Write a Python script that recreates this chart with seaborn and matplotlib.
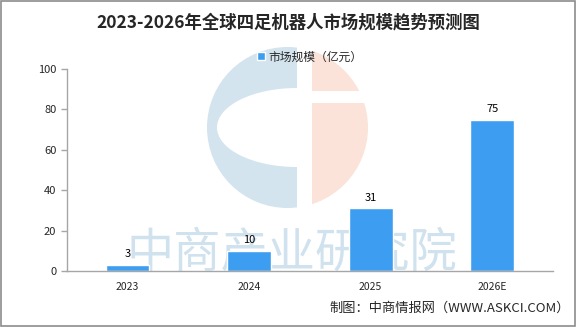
import matplotlib
matplotlib.use("Agg")
import matplotlib.pyplot as plt
import seaborn as sns
import pandas as pd
from matplotlib.patches import Circle, Ellipse, Rectangle

# 数据
years = ["2023", "2024", "2025", "2026E"]
market_size = [3, 10, 31, 75]
series_name = "市场规模（亿元）"
title = "2023-2026年全球四足机器人市场规模趋势预测图"
source = "制图：中商情报网（WWW.ASKCI.COM）"

df = pd.DataFrame({"年份": years, series_name: market_size})

sns.set_style("white")
plt.rcParams["font.family"] = ["Noto Sans CJK SC", "DejaVu Sans"]

bar_color = "#3d9df0"
axis_gray = "#a6a6a6"

fig = plt.figure(figsize=(5.76, 3.27), dpi=100)
ax = fig.add_axes([0.116, 0.171, 0.844, 0.618])

# 背景水印（logo + 文字），像素坐标
wm = fig.add_axes([0, 0, 1, 1], zorder=-1)
wm.set_xlim(0, 576)
wm.set_ylim(327, 0)
wm.axis("off")
left_clip = Rectangle((100, 0), 197, 327, transform=wm.transData)
right_clip = Rectangle((312, 0), 100, 327, transform=wm.transData)
blue = wm.add_patch(Circle((287.5, 127.5), 80.5, color="#d3e4ee", lw=0))
blue.set_clip_path(left_clip)
hole = wm.add_patch(Ellipse((297, 127.5), 160, 79, color="white", lw=0))
hole.set_clip_path(left_clip)
pink = wm.add_patch(Circle((287.5, 127.5), 80.5, color="#fbe3d9", lw=0))
pink.set_clip_path(right_clip)
wm.add_patch(Rectangle((312, 91), 60, 12, color="white", lw=0))
wm.text(292, 254, "中商产业研究院", fontsize=34, color="#d0e2ee",
        ha="center", va="center")
ax.patch.set_alpha(0)

sns.barplot(data=df, x="年份", y=series_name, color=bar_color, width=0.36,
            saturation=1, ax=ax, label=series_name)

for i, v in enumerate(market_size):
    ax.annotate(str(v), (i, v), xytext=(0, 4), textcoords="offset points",
                ha="center", va="bottom", fontsize=8, color="black")

ax.set_ylim(0, 100)
ax.set_xlim(-0.5, len(years) - 0.5)
ax.set_yticks([0, 20, 40, 60, 80, 100])
ax.set_xlabel("")
ax.set_ylabel("")
ax.set_xticks(range(len(years)))
ax.set_xticklabels(years)
ax.set_xticks([i - 0.5 for i in range(len(years) + 1)], minor=True)
ax.tick_params(axis="x", which="major", length=0, labelsize=7.5, pad=8)
ax.tick_params(axis="x", which="minor", length=5, width=1, color=axis_gray,
               direction="out")
ax.tick_params(axis="y", length=4, width=1, color=axis_gray, labelsize=8,
               direction="out", left=True)
for s in ["top", "right"]:
    ax.spines[s].set_visible(False)
for s in ["left", "bottom"]:
    ax.spines[s].set_color(axis_gray)
    ax.spines[s].set_linewidth(1)

ax.legend(loc="center", bbox_to_anchor=(0.5, 1.06), frameon=False,
          fontsize=8.5, handlelength=0.7, handleheight=0.7, handletextpad=0.3)

fig.text(0.5, 0.93, title, ha="center", va="center", fontsize=12.5,
         fontweight="bold")
fig.text(0.99, 0.058, source, ha="right", va="center", fontsize=9.5)

fig.add_artist(Rectangle((0.001, 0.002), 0.997, 0.995, transform=fig.transFigure,
                         fill=False, edgecolor="#8c8c8c", lw=1.2))

fig.savefig("out.png", dpi=100)
